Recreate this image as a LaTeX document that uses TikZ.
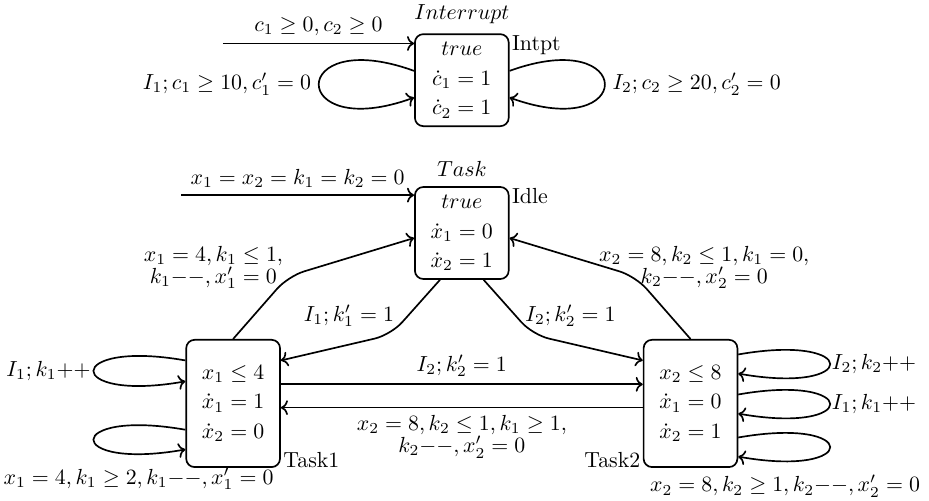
\documentclass[tikz,border=0pt]{standalone}
\usepackage{fix-cm}
\usetikzlibrary{arrows.meta,positioning}
\newcommand{\incop}{{+}{+}}
\newcommand{\decop}{{-}{-}}
\tikzset{
  mode/.style={
    rectangle,
    rounded corners=4pt,
    draw=black,
    thick,
    align=center,
    minimum width=1.57cm,
    minimum height=1.54cm
  },
  tallmode/.style={
    mode,
    minimum height=2.13cm
  },
  modename/.style={
    inner sep=1pt
  },
  arrow/.style={
    -{To},
    thick,
    draw=black
  },
  bentarrow/.style={
    arrow,
    rounded corners=8pt
  },
  guard/.style={
    align=center
  }
}

\begin{document}
\begin{tikzpicture}[node distance=0.99cm and 2.23cm, font=\fontsize{10.4}{12.5}\selectfont]
  \useasboundingbox (0,0) rectangle (15.55,-8.37);

  \node[mode] (idle) at (7.73,-3.90) {$true$\\[1.6pt]$\dot{x}_1 = 0$\\[1.6pt]$\dot{x}_2 = 1$};
  \node[mode, above=of idle] (intpt) {$true$\\[1.6pt]$\dot{c}_1 = 1$\\[1.6pt]$\dot{c}_2 = 1$};
  \node[tallmode, below left=of idle] (task1) {$x_1 \leq 4$\\[1.6pt]$\dot{x}_1 = 1$\\[1.6pt]$\dot{x}_2 = 0$};
  \node[tallmode, below right=of idle] (task2) {$x_2 \leq 8$\\[1.6pt]$\dot{x}_1 = 0$\\[1.6pt]$\dot{x}_2 = 1$};

  % automaton titles and location names
  \node[above=1pt of intpt] (intptaut) {$Interrupt$};
  \node[above=1pt of idle] (taskaut) {$Task$};
  \node[modename, anchor=north west] (intptname) at (intpt.north east) {Intpt};
  \node[modename, anchor=north west] (idlename) at (idle.north east) {Idle};
  \node[modename, anchor=base west] (task1name) at (task1.south east) {Task1};
  \node[modename, anchor=base east] (task2name) at (task2.south west) {Task2};

  % initial edges
  \coordinate (intptinit) at ([xshift=-3.2cm, yshift=-0.17cm]intpt.north west);
  \coordinate (idleinit) at ([xshift=-3.9cm, yshift=-0.15cm]idle.north west);
  \draw[arrow] (intptinit) -- node[above] (g0) {$c_1 \geq 0, c_2 \geq 0$} (intptinit -| intpt.west);
  \draw[arrow] (idleinit) -- node[above] (g1) {$x_1 = x_2 = k_1 = k_2 = 0$} (idleinit -| idle.west);

  % interrupt self loops
  \draw[arrow] (intpt.169) .. controls +(160:2.26cm) and +(200:2.26cm) .. (intpt.200)
    node[pos=0.5, left] (g2) {$I_1; c_1 \geq 10, c'_1 = 0$};
  \draw[arrow] (intpt.11) .. controls +(20:2.26cm) and +(340:2.26cm) .. (intpt.340)
    node[pos=0.5, right] (g3) {$I_2; c_2 \geq 20, c'_2 = 0$};

  % task edges
  \draw[bentarrow] (task1.north) -- ++(0.92,1.05)
    node[guard, xshift=-1.25cm, yshift=0.15cm] (g4) {$x_1 = 4, k_1 \leq 1,$\\[-2pt]$k_1\decop, x'_1 = 0$}
    -- (idle.186);
  \draw[bentarrow] (task2.north) -- ++(-0.92,1.05)
    node[guard, xshift=1.15cm, yshift=0.15cm] (g5) {$x_2 = 8, k_2 \leq 1, k_1 = 0,$\\[-2pt]$k_2\decop, x'_2 = 0$}
    -- (idle.354);
  \draw[bentarrow] (idle.245) -- node[pos=0.65, left=3pt] (g6) {$I_1; k'_1 = 1$} ++(-0.82,-0.92) -- (task1.42);
  \draw[bentarrow] (idle.295) -- node[pos=0.65, right=1pt] (g7) {$I_2; k'_2 = 1$} ++(0.82,-0.92) -- (task2.138);
  \draw[arrow] ([yshift=0.32cm]task1.east) -- node[above] (g8) {$I_2; k'_2 = 1$} ([yshift=0.32cm]task2.west);
  \draw[arrow] ([yshift=-0.07cm]task2.west) -- node[guard, below] (g9) {$x_2 = 8, k_2 \leq 1, k_1 \geq 1,$\\[-2pt]$k_2\decop, x'_2 = 0$} ([yshift=-0.07cm]task1.east);

  % task self loops
  \draw[arrow] ([yshift=0.72cm]task1.west) .. controls +(170:2.08cm) and +(190:2.08cm) .. ([yshift=0.37cm]task1.west)
    node[pos=0.5, left, inner sep=1pt] (g10) {$I_1; k_1\incop$};
  \draw[arrow] ([yshift=-0.44cm]task1.west) .. controls +(170:2.08cm) and +(190:2.08cm) .. ([yshift=-0.77cm]task1.west)
    node[pos=0.85, below=3pt] (g11) {$x_1 = 4, k_1 \geq 2, k_1\decop, x'_1 = 0$};
  \draw[arrow] ([yshift=0.82cm]task2.east) .. controls +(10:2.08cm) and +(350:2.08cm) .. ([yshift=0.50cm]task2.east)
    node[pos=0.5, right, inner sep=0.5pt] (g12) {$I_2; k_2\incop$};
  \draw[arrow] ([yshift=0.15cm]task2.east) .. controls +(10:2.08cm) and +(350:2.08cm) .. ([yshift=-0.17cm]task2.east)
    node[pos=0.5, right, inner sep=0.5pt] (g13) {$I_1; k_1\incop$};
  \draw[arrow] ([yshift=-0.57cm]task2.east) .. controls +(10:2.08cm) and +(350:2.08cm) .. ([yshift=-0.89cm]task2.east)
    node[pos=0.85, below=3pt] (g14) {$x_2 = 8, k_2 \geq 1, k_2\decop, x'_2 = 0$};
\end{tikzpicture}
\end{document}
